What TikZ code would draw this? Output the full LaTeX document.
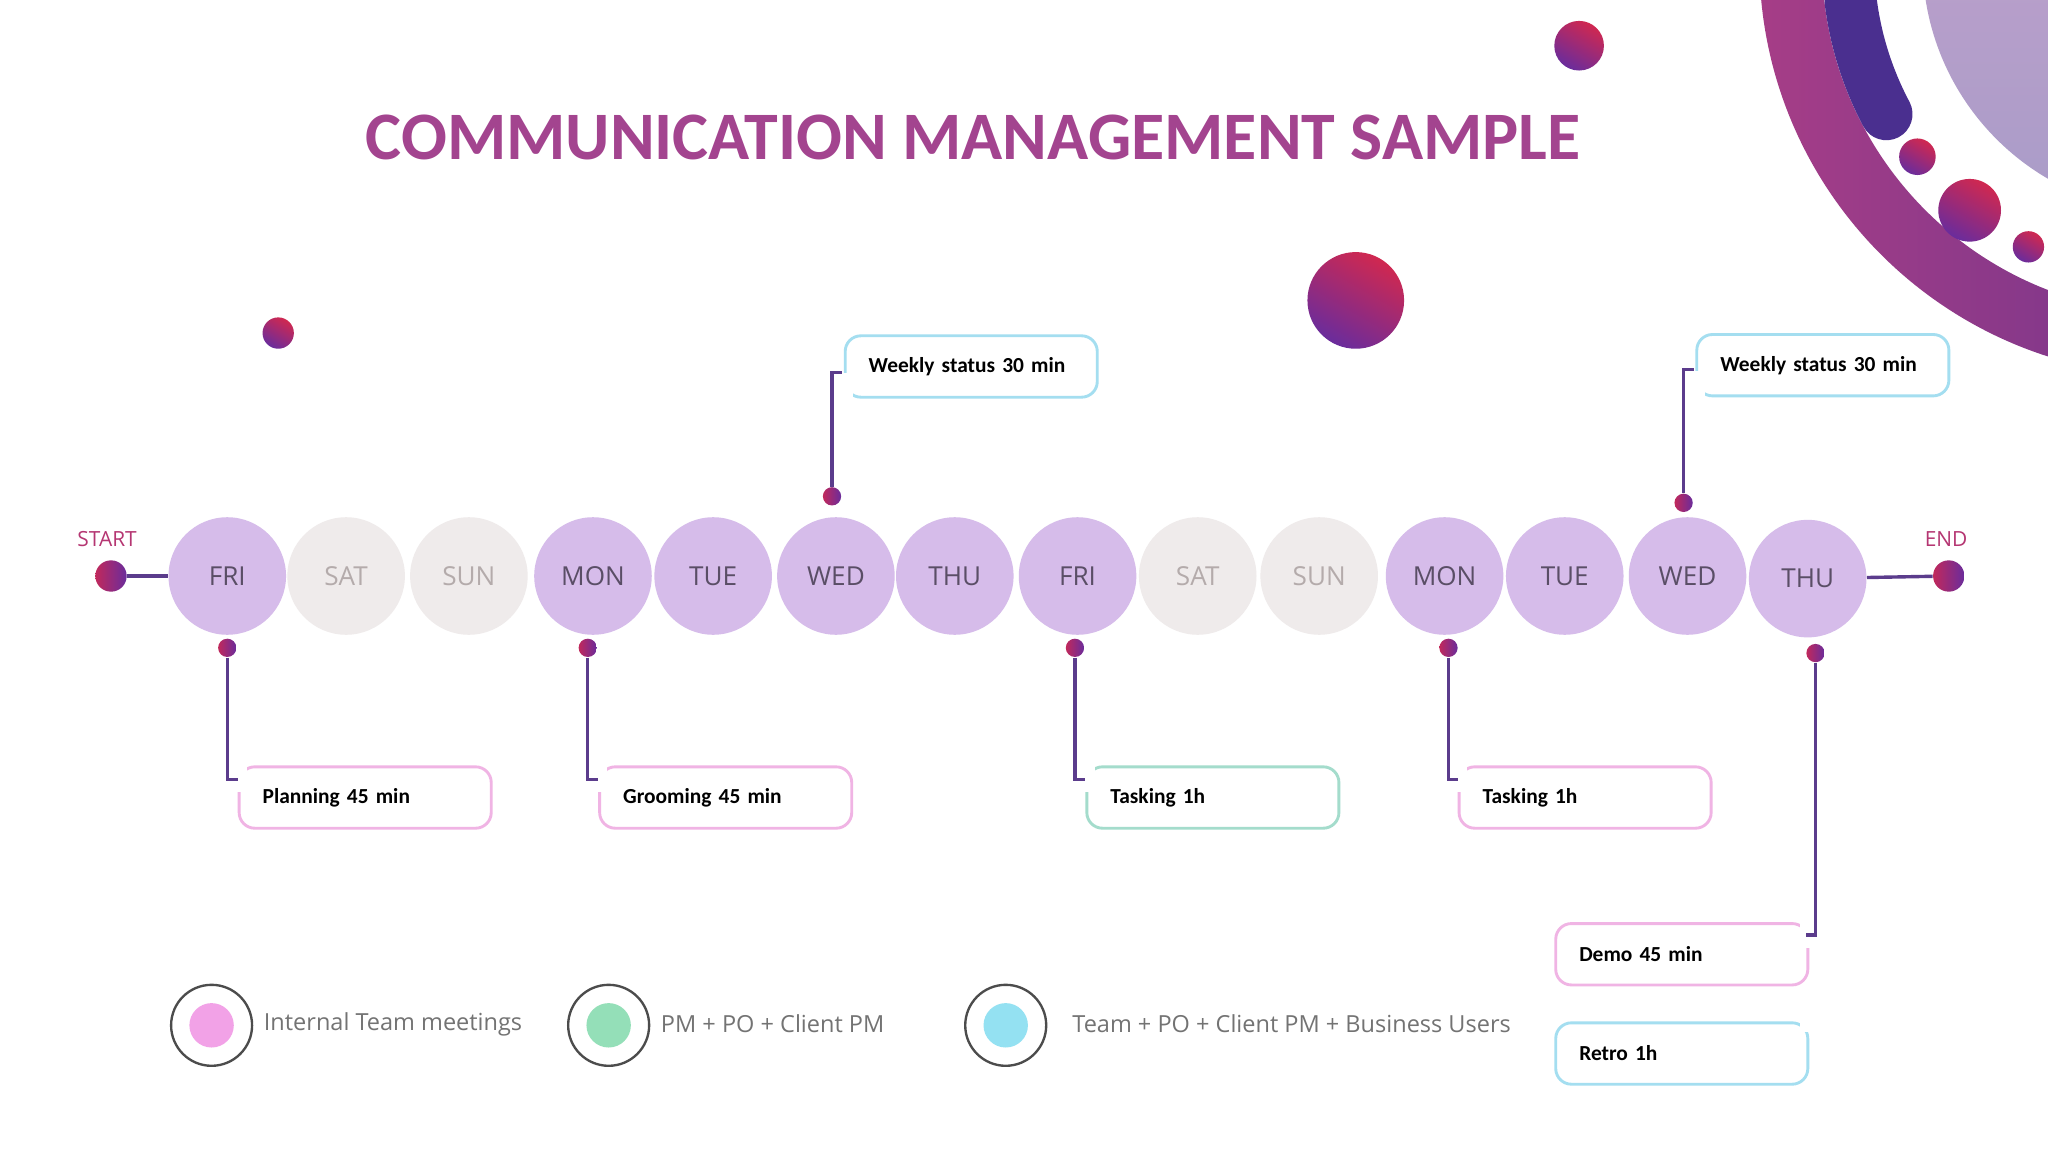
\documentclass[tikz,border=0pt]{standalone}
\usepackage{fontspec}
\setmainfont{Open Sans}
\newfontfamily\calfont{Carlito}
\usetikzlibrary{calc}
\definecolor{dayon}{HTML}{D6BCEA}
\definecolor{dayoff}{HTML}{EFEBEB}
\definecolor{txon}{HTML}{5A4E66}
\definecolor{txoff}{HTML}{B4ABAB}
\definecolor{conn}{HTML}{5B3C8C}
\definecolor{pinkb}{HTML}{F0B4E4}
\definecolor{tealb}{HTML}{A4DCCC}
\definecolor{cyanb}{HTML}{A4DEF0}
\definecolor{ttl}{HTML}{A3448F}
\definecolor{redb}{HTML}{D02850}
\definecolor{purb}{HTML}{6A2C9C}
\definecolor{indig}{HTML}{4A2F8F}
\definecolor{lavt}{HTML}{C9A2CD}
\definecolor{lavb}{HTML}{A99CC8}
\tikzset{
 day/.style={circle, minimum size=45pt, inner sep=0pt, font=\fontsize{10}{12}\selectfont},
 on/.style={day, fill=dayon, text=txon},
 off/.style={day, fill=dayoff, text=txoff},
 dot/.style={circle, minimum size=7pt, inner sep=0pt, left color=redb!85!purb, right color=purb},
 bigdot/.style={circle, minimum size=12pt, inner sep=0pt, left color=redb!85!purb, right color=purb},
 ball/.style={circle, inner sep=0pt, top color=redb, bottom color=purb, shading angle=-30},
 con/.style={draw=conn, line width=1.3pt},
 callout/.style={draw=#1, line width=1.1pt, rounded corners=6pt, fill=white, minimum width=96.5pt, minimum height=23.5pt, anchor=north west, font=\calfont\bfseries\fontsize{8.2}{10}\selectfont, text=black, align=left, text width=78.5pt, inner xsep=9pt},
 leg/.style={font=\fontsize{9}{11}\selectfont, text=black!55, anchor=west},
}
\begin{document}
\begin{tikzpicture}[x=0.5pt,y=-0.5pt]
\useasboundingbox (0,0) rectangle (1568,882);
\fill[white] (0,0) rectangle (1568,882);
% decoration top right
\begin{scope}
\clip (0,0) rectangle (1568,882);
\shade[left color=ttl!90!purple, right color=indig, even odd rule] (1665,-30) circle (159pt) (1665,-30) circle (135pt);
\shade[top color=lavt, bottom color=lavb] (1665,-30) circle (96.5pt);
\draw[line width=20pt, line cap=round, draw=indig] (1665,-30) ++(187:125pt) arc[start angle=187, end angle=208, radius=125pt];
\end{scope}
\node[ball, minimum size=19pt] (b1) at (1209,35) {};
\node[ball, minimum size=12pt] (b2) at (213,255) {};
\node[ball, minimum size=37pt] (b3) at (1038,230) {};
\node[ball, minimum size=14pt] (b4) at (1468,120) {};
\node[ball, minimum size=24pt] (b5) at (1508,161) {};
\node[ball, minimum size=12pt] (b6) at (1553,189) {};
% title
\node[font=\calfont\bfseries\fontsize{26}{30}\selectfont, text=ttl] (title) at (745,105) {COMMUNICATION MANAGEMENT SAMPLE};
% days
\node[on] (d1) at (174,441) {FRI};
\node[off] (d2) at (265,441) {SAT};
\node[off] (d3) at (359,441) {SUN};
\node[on] (d4) at (454,441) {MON};
\node[on] (d5) at (546,441) {TUE};
\node[on] (d6) at (640,441) {WED};
\node[on] (d7) at (731,441) {THU};
\node[on] (d8) at (825,441) {FRI};
\node[off] (d9) at (917,441) {SAT};
\node[off] (d10) at (1010,441) {SUN};
\node[on] (d11) at (1106,441) {MON};
\node[on] (d12) at (1198,441) {TUE};
\node[on] (d13) at (1292,441) {WED};
\node[on] (d14) at (1384,443) {THU};
% start / end
\node[bigdot] (s) at (85,441) {};
\node[bigdot] (e) at (1492,441) {};
\node[font=\fontsize{8}{9}\selectfont, text=ttl!80!red] (st) at (82,413) {START};
\node[font=\fontsize{8}{9}\selectfont, text=ttl!80!red] (en) at (1490,413) {END};
\draw[con] (s) -- (d1);
\draw[con] (d14) -- (e);
% callouts
\node[callout=pinkb] (c1) at (182,586) {Planning 45 min};
\node[callout=pinkb] (c2) at (458,586) {Grooming 45 min};
\node[callout=tealb] (c3) at (831,586) {Tasking 1h};
\node[callout=pinkb] (c4) at (1116,586) {Tasking 1h};
\node[callout=pinkb] (c5) at (1190,706) {Demo 45 min};
\node[callout=cyanb] (c6) at (1190,782) {Retro 1h};
\node[callout=cyanb] (c7) at (646,256) {Weekly status 30 min};
\node[callout=cyanb] (c8) at (1298,255) {Weekly status 30 min};
% gaps in frames
\foreach \c in {c1,c2,c3,c4}{\fill[white] ($(\c.north west)+(-4,-4)$) rectangle ($(\c.north west)+(7,20)$);}
\foreach \c in {c7,c8}{\fill[white] ($(\c.south west)+(-4,4)$) rectangle ($(\c.south west)+(7,-20)$);}
\fill[white] ($(c5.north east)+(4,-4)$) rectangle ($(c5.north east)+(-7,20)$);
\fill[white] ($(c6.north east)+(4,-4)$) rectangle ($(c6.north east)+(-7,8)$);
% connector points
\node[dot] (p1) at (174,496) {};
\node[dot] (p2) at (450,496) {};
\node[dot] (p3) at (823,496) {};
\node[dot] (p4) at (1109,496) {};
\node[dot] (p5) at (1390,500) {};
\node[dot] (p6) at (637,380) {};
\node[dot] (p7) at (1289,385) {};
\coordinate (q1) at (182,597);
\coordinate (q2) at (458,597);
\coordinate (q3) at (831,597);
\coordinate (q4) at (1116,597);
\coordinate (q5) at (1383,716);
\coordinate (q6) at (645,285);
\coordinate (q7) at (1297,283);
\foreach \i in {1,...,7}{\draw[con] (p\i) |- (q\i);}
% legend
\node[circle, draw=black!70, line width=0.9pt, minimum size=31pt, inner sep=0pt] (l1) at (162,785) {};
\node[circle, fill=pinkb!90!magenta, minimum size=17pt, inner sep=0pt] (l1i) at (l1) {};
\node[leg] (t1) at (195,784) {Internal Team meetings};
\node[circle, draw=black!70, line width=0.9pt, minimum size=31pt, inner sep=0pt] (l2) at (466,785) {};
\node[circle, fill=tealb!90!green, minimum size=17pt, inner sep=0pt] (l2i) at (l2) {};
\node[leg] (t2) at (499,784) {PM + PO + Client PM};
\node[circle, draw=black!70, line width=0.9pt, minimum size=31pt, inner sep=0pt] (l3) at (770,785) {};
\node[circle, fill=cyanb!90!cyan, minimum size=17pt, inner sep=0pt] (l3i) at (l3) {};
\node[leg] (t3) at (814,784) {Team + PO + Client PM + Business Users};
\end{tikzpicture}
\end{document}
